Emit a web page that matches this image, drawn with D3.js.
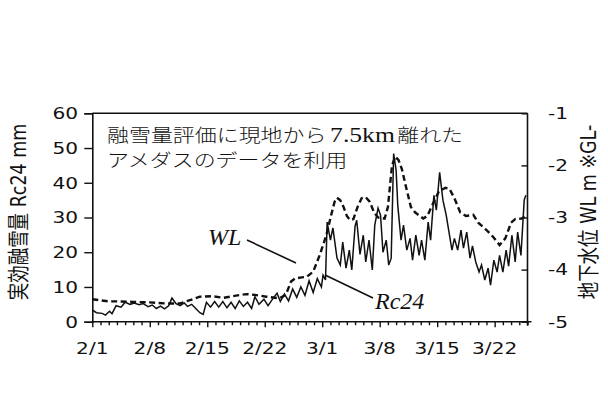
<!DOCTYPE html>
<html><head><meta charset="utf-8">
<script src="https://cdn.jsdelivr.net/npm/d3@7"></script>
<style>body{margin:0;background:#fff}svg{display:block}</style>
</head><body><svg id="c" width="608" height="411"></svg>
<script>
// ---- data (days since 2/1) ----
const startDate = new Date(2019, 1, 1);
const endDate = new Date(2019, 2, 26);
const rcDays = [0,0.5,1.2,1.6,2.1,2.4,2.9,3.5,4.0,4.6,5.1,5.7,6.2,6.8,7.3,7.8,8.3,8.8,9.3,9.7,10.2,10.7,11.2,11.6,12.1,12.6,13.1,13.5,13.9,14.4,14.9,15.4,15.9,16.4,16.9,17.4,17.9,18.4,18.9,19.4,19.8,20.3,20.9,21.4,22.1,22.5,22.9,23.4,23.9,24.4,24.9,25.4,25.9,26.4,26.9,27.4,27.9,28.1,28.4,28.6,29.0,29.3,29.8,30.2,30.5,30.9,31.3,31.6,32.0,32.2,32.6,33.0,33.3,33.7,34.1,34.4,34.8,35.1,35.4,35.8,36.1,36.4,36.7,37.0,37.2,37.6,37.9,38.3,38.7,39.0,39.4,39.8,40.1,40.5,40.9,41.2,41.6,41.9,42.3,42.7,43.1,43.4,43.8,44.1,44.5,44.9,45.2,45.6,46.0,46.3,46.7,47.1,47.4,47.8,48.2,48.5,48.9,49.3,49.6,50.0,50.4,50.7,51.1,51.5,51.8,52.2,52.6,52.8];
const rcValues = [3.4,2.6,2.4,1.9,3.0,2.3,4.6,4.2,5.6,5.0,5.4,4.9,5.2,4.3,4.8,3.8,4.5,3.7,4.6,6.8,5.2,4.6,5.4,4.4,5.0,3.8,2.6,2.1,5.6,4.2,5.8,4.2,5.8,4.0,5.6,3.8,6.0,4.4,5.6,3.8,7.2,5.0,6.5,4.6,7.0,8.2,5.8,8.0,6.0,9.4,7.0,10.0,7.6,11.8,8.4,12.4,10.0,13.4,12.0,28.7,23.5,27.0,18.3,16.3,22.9,15.4,20.6,14.9,27.5,29.2,19.4,24.9,17.2,23.5,14.9,27.8,32.7,30.7,20.0,23.5,16.3,18.3,48.4,43.6,33.5,23.5,27.8,20.6,24.0,17.7,24.9,19.1,23.5,17.7,28.7,23.5,36.4,32.1,43.0,35.0,30.7,26.4,20.6,24.0,20.6,26.4,21.2,25.8,18.3,21.8,17.2,14.3,16.3,12.0,15.4,10.5,17.7,14.3,19.1,14.3,20.6,16.0,24.9,17.2,25.8,19.1,35.0,36.4];
const wlDays = [0,1.0,2.0,3.0,5.0,7.0,9.0,10.7,12.0,13.1,14.5,16.0,17.5,18.8,20.0,21.2,22.8,23.4,23.7,24.2,24.7,25.5,26.1,26.9,27.7,28.5,29.1,29.5,29.8,30.2,30.6,31.0,31.4,31.8,32.3,32.8,33.3,33.8,34.3,34.8,35.6,36.0,36.5,36.9,37.3,37.7,38.2,38.8,39.3,40.3,40.8,41.5,42.2,43.0,43.5,44.1,44.8,45.5,46.4,47.0,48.0,48.8,49.6,50.3,51.0,51.5,52.3,52.8];
const wlValues = [-4.57,-4.59,-4.61,-4.61,-4.62,-4.63,-4.65,-4.65,-4.58,-4.52,-4.51,-4.54,-4.50,-4.47,-4.49,-4.52,-4.55,-4.50,-4.43,-4.23,-4.17,-4.15,-4.14,-4.04,-3.72,-3.34,-2.95,-2.70,-2.62,-2.67,-2.80,-2.97,-3.05,-3.03,-2.80,-2.63,-2.61,-2.70,-2.90,-3.00,-3.02,-2.80,-2.00,-1.83,-1.90,-2.07,-2.41,-2.80,-2.90,-3.02,-2.97,-2.73,-2.50,-2.43,-2.45,-2.63,-2.90,-2.97,-2.95,-3.10,-3.24,-3.37,-3.53,-3.40,-3.10,-3.03,-3.02,-2.97];
const leftTicks = [0,10,20,30,40,50,60];
const rightTicks = [-1,-2,-3,-4,-5];
const xLabelDays = [0,7,14,21,28,35,42,49];
const xTickLabels = ["2/1","2/8","2/15","2/22","3/1","3/8","3/15","3/22"];
const leftTitle = "実効融雪量 Rc24 mm";
const rightTitle = "地下水位 WL m ※GL-";
const note1a = "融雪量評価に現地から", note1b = "7.5km", note1c = "離れた";
const note2 = "アメダスのデータを利用";

// ---- helpers ----
const DAY = 86400000;
const toDate = d => new Date(startDate.getTime() + d * DAY);
const svg = d3.select("#c");
const SX = 1.22;
const SANS = "'DejaVu Sans','Noto Sans CJK JP',sans-serif";
function txt(x, y, s, o) {
  o = o || {};
  const t = svg.append("text")
    .attr("transform", `translate(${x},${y}) scale(${o.sx || SX},1) rotate(${o.rot || 0})`)
    .attr("text-anchor", o.anchor || "start")
    .attr("font-family", o.family || SANS)
    .attr("font-size", o.size || 16)
    .attr("fill", "#111");
  if (o.style) t.attr("font-style", o.style);
  if (o.weight) t.attr("font-weight", o.weight);
  if (o.base) t.attr("dominant-baseline", o.base);
  if (s !== null) t.text(s);
  return t;
}

// ---- scales ----
const x = d3.scaleTime().domain([startDate, endDate]).range([92.3, 527.5]);
const yL = d3.scaleLinear().domain([0, 60]).range([321.7, 113.3]);
const yR = d3.scaleLinear().domain([-5, -1]).range([321.7, 113.3]);

// ---- frame ----
svg.append("line").attr("x1", x.range()[0]).attr("x2", x.range()[1]).attr("y1", yL(60)).attr("y2", yL(60))
  .attr("stroke", "#111").attr("stroke-width", 1.6);

// left axis
const gL = svg.append("g").attr("transform", `translate(${x.range()[0]},0)`)
  .call(d3.axisLeft(yL).tickValues(leftTicks).tickSize(8).tickFormat(""));
// right axis
const gR = svg.append("g").attr("transform", `translate(${x.range()[1]},0)`)
  .call(d3.axisRight(yR).tickValues(rightTicks).tickSize(-6).tickFormat(""));
// bottom axis (daily ticks)
const dayTicks = d3.range(0, 54).map(toDate);
const gB = svg.append("g").attr("transform", `translate(0,${yL(0)})`)
  .call(d3.axisBottom(x).tickValues(dayTicks).tickSize(3.5).tickFormat(""));
gB.selectAll(".tick line").attr("y2", (d, i) => (i % 7 === 0 ? 5.5 : 3.5));
[gL, gR, gB].forEach(g => {
  g.selectAll(".domain").attr("stroke", "#111").attr("stroke-width", 1.6);
  g.selectAll(".tick line").attr("stroke", "#111").attr("stroke-width", 1.4);
});
gR.select(".domain").attr("d", `M0,${yR(-1)}V${yR(-5) + 4}`);
gB.select(".domain").attr("d", `M${x.range()[0]},0H${x.range()[1] + 4}`);

// tick labels
leftTicks.forEach(v => txt(78, yL(v), String(v), { anchor: "end", base: "central", size: 16.5 }));
rightTicks.forEach(v => txt(548, yR(v), String(v), { anchor: "start", base: "central", size: 16.5 }));
xLabelDays.forEach((d, i) => txt(x(toDate(d)), 354, xTickLabels[i], { anchor: "middle", size: 16.5 }));

// axis titles
txt(19, 212, leftTitle, { anchor: "middle", base: "central", size: 17.5, rot: -90 });
txt(589, 212, rightTitle, { anchor: "middle", base: "central", size: 17.5, rot: -90 });

// ---- lines ----
const rcData = rcDays.map((d, i) => ({ t: toDate(d), v: rcValues[i] }));
const wlData = wlDays.map((d, i) => ({ t: toDate(d), v: wlValues[i] }));
svg.append("path").datum(wlData)
  .attr("d", d3.line().x(d => x(d.t)).y(d => yR(d.v)))
  .attr("fill", "none").attr("stroke", "#111").attr("stroke-width", 2.4)
  .attr("stroke-dasharray", "6,3.5");
svg.append("path").datum(rcData)
  .attr("d", d3.line().x(d => x(d.t)).y(d => yL(d.v)))
  .attr("fill", "none").attr("stroke", "#111").attr("stroke-width", 1.5);

// ---- annotations ----
const SERIF = "'Liberation Serif','Noto Sans CJK JP',serif";
const MINCHO = "'Noto Sans CJK JP',sans-serif";
const n1 = txt(107, 142, null, { size: 18, family: MINCHO, weight: 300 });
n1.append("tspan").text(note1a);
n1.append("tspan").attr("font-family", SERIF).attr("font-size", 21).attr("dx", 3).text(note1b);
n1.append("tspan").attr("dx", 2).text(note1c);
txt(107, 167, note2, { size: 18, family: MINCHO, weight: 300 });

txt(208, 245, "WL", { size: 24, family: SERIF, style: "italic", sx: 1 });
txt(375, 309, "Rc24", { size: 24, family: SERIF, style: "italic", sx: 1 });
svg.append("line").attr("x1", 247).attr("y1", 240).attr("x2", 296).attr("y2", 263).attr("stroke", "#111").attr("stroke-width", 1.6);
svg.append("line").attr("x1", 325).attr("y1", 275).attr("x2", 373).attr("y2", 298).attr("stroke", "#111").attr("stroke-width", 1.6);
</script></body></html>
